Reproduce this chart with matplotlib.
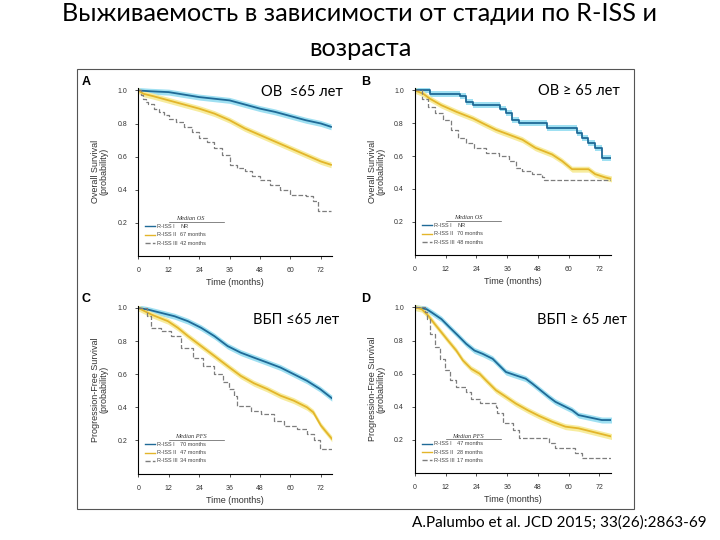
import matplotlib
matplotlib.use("Agg")
import matplotlib.pyplot as plt
from matplotlib.patches import Rectangle
from matplotlib.lines import Line2D

plt.rcParams['font.family'] = ['Liberation Sans', 'DejaVu Sans']

BLUE = '#1f6a97'
BLUE_CI = '#9fe0f2'
GOLD = '#e3b52a'
GOLD_CI = '#f7ec9e'
GRAY = '#7d7d7d'

# ---- data (months, survival probability) ----
# A: OS, age <= 65
A_I_T = [0, 5, 12, 18, 24, 30, 36, 42, 48, 54, 60, 66, 72, 76]
A_I_S = [1.0, 0.995, 0.99, 0.975, 0.96, 0.95, 0.94, 0.915, 0.89, 0.87, 0.845, 0.82, 0.80, 0.78]
A_II_T = [0, 2, 6, 12, 18, 24, 30, 36, 42, 48, 54, 60, 66, 72, 76]
A_II_S = [1.0, 0.98, 0.965, 0.94, 0.915, 0.89, 0.86, 0.82, 0.77, 0.73, 0.69, 0.65, 0.61, 0.57, 0.55]
A_III_T = [0, 1, 2, 3, 4, 6, 8, 10, 12, 15, 18, 21, 24, 27, 30, 33, 36, 39, 42, 45, 48, 52, 56, 60, 63, 66, 69, 71, 76]
A_III_S = [1.0, 0.97, 0.95, 0.93, 0.92, 0.89, 0.87, 0.85, 0.83, 0.81, 0.78, 0.75, 0.71, 0.69, 0.65, 0.61, 0.55, 0.53,
           0.51, 0.48, 0.46, 0.43, 0.40, 0.37, 0.365, 0.36, 0.33, 0.27, 0.27]

# B: OS, age > 65
B_I_T = [0, 5.8, 17.4, 20, 22.6, 33, 35.5, 38, 40.6, 51.6, 63.2, 65.2, 67.7, 70.3, 72.9, 76.5]
B_I_S = [1.0, 0.98, 0.965, 0.93, 0.91, 0.89, 0.86, 0.82, 0.80, 0.77, 0.74, 0.71, 0.68, 0.65, 0.59, 0.59]
B_II_T = [0, 3.2, 5.8, 10.3, 16.1, 22.6, 26.4, 31.6, 36.8, 41.9, 47, 53.5, 57.4, 61.3, 67.7, 70.3, 74.2, 76.8]
B_II_S = [1.0, 0.98, 0.95, 0.91, 0.87, 0.83, 0.80, 0.76, 0.73, 0.70, 0.65, 0.61, 0.57, 0.52, 0.52, 0.49, 0.47, 0.46]
B_III_T = [0, 2.6, 5.2, 7.7, 11, 14.2, 16.8, 20, 23.2, 27.7, 32.9, 36.8, 39.3, 41.9, 45.8, 49.7, 50.3, 76.8]
B_III_S = [1.0, 0.95, 0.90, 0.86, 0.82, 0.76, 0.71, 0.68, 0.65, 0.62, 0.60, 0.57, 0.53, 0.51, 0.49, 0.47, 0.455, 0.455]

# C: PFS, age <= 65
C_I_T = [0, 3.9, 9.1, 14.3, 19.6, 24.8, 30, 35.2, 40.4, 45.6, 50.9, 56.1, 61.3, 66.5, 71.7, 76.3]
C_I_S = [1.0, 0.99, 0.97, 0.95, 0.92, 0.88, 0.83, 0.77, 0.73, 0.70, 0.67, 0.64, 0.60, 0.56, 0.51, 0.455]
C_II_T = [0, 5.2, 11.7, 15.6, 19.6, 24.8, 30, 36, 40.4, 45.6, 50.9, 56.1, 61.3, 66.5, 69, 72, 76.3]
C_II_S = [1.0, 0.96, 0.92, 0.88, 0.83, 0.77, 0.71, 0.64, 0.59, 0.545, 0.51, 0.47, 0.44, 0.40, 0.37, 0.29, 0.21]
C_III_T = [0, 3.3, 5.2, 9.1, 13, 17, 21.5, 25.4, 30, 33.3, 35.9, 37.8, 39.1, 44.3, 48.2, 53.5, 57.4, 62.6, 66.5,
           69.1, 71.7, 76.3]
C_III_S = [1.0, 0.95, 0.88, 0.86, 0.83, 0.76, 0.70, 0.65, 0.60, 0.55, 0.51, 0.47, 0.41, 0.38, 0.36, 0.32, 0.29, 0.27,
           0.24, 0.20, 0.15, 0.15]

# D: PFS, age > 65
D_I_T = [0, 4.5, 6.5, 10.3, 13.5, 16.8, 20, 23.2, 26.4, 30.3, 32.9, 35.5, 39.3, 43.2, 45.8, 49, 52.2, 54.8, 58.7,
         61.3, 63.8, 72.9, 76.8]
D_I_S = [1.0, 0.99, 0.97, 0.93, 0.88, 0.83, 0.78, 0.74, 0.72, 0.69, 0.65, 0.61, 0.59, 0.57, 0.54, 0.50, 0.46, 0.43,
         0.40, 0.38, 0.35, 0.32, 0.32]
D_II_T = [0, 2.6, 5.2, 7.7, 10.3, 12.9, 16.1, 18.7, 21.9, 25.2, 27.7, 31.6, 35.5, 39.3, 43.9, 48.4, 53.5, 58.7,
          63.8, 69, 74.2, 76.8]
D_II_S = [1.0, 0.99, 0.95, 0.90, 0.85, 0.80, 0.74, 0.68, 0.63, 0.60, 0.56, 0.50, 0.46, 0.42, 0.38, 0.345, 0.31,
          0.28, 0.27, 0.25, 0.23, 0.22]
D_III_T = [0, 3.9, 4.5, 5.8, 7.7, 9.7, 11.6, 13.5, 16.1, 20, 21.9, 25.2, 31.6, 32.2, 34.2, 38.1, 40.6, 49.7, 52.2,
           54.8, 61.3, 62.6, 65.2, 76.8]
D_III_S = [1.0, 0.97, 0.93, 0.84, 0.76, 0.69, 0.62, 0.56, 0.52, 0.49, 0.45, 0.42, 0.40, 0.36, 0.30, 0.26, 0.21,
           0.21, 0.18, 0.15, 0.15, 0.12, 0.09, 0.09]

STAGES = ['R-ISS I', 'R-ISS II', 'R-ISS III']
MEDIANS_A = ['NR', '67 months', '42 months']
MEDIANS_B = ['NR', '70 months', '48 months']
MEDIANS_C = ['70 months', '47 months', '34 months']
MEDIANS_D = ['47 months', '28 months', '17 months']

X_TICKS = [0, 12, 24, 36, 48, 60, 72]
Y_TICKS = [0.2, 0.4, 0.6, 0.8, 1.0]

TITLE = 'Выживаемость в зависимости от стадии по R-ISS и\nвозраста'
CITATION = 'A.Palumbo et al. JCD 2015; 33(26):2863-69'


def draw_panel(ax, curves, ylabel, leg_title, medians):
    for t, s, color, ci, ls, step in curves:
        ds = 'steps-post' if step else 'default'
        if ci:
            lo = [v - 0.018 for v in s]
            hi = [v + 0.018 for v in s]
            ax.fill_between(t, lo, hi, color=ci, lw=0, step='post' if step else None, zorder=1)
        ax.plot(t, s, color=color, lw=1.3 if ls == '-' else 0.9, ls=ls, drawstyle=ds, zorder=2)

    ax.set_xlim(0, 76.5)
    ax.set_ylim(0, 1.015)
    ax.set_xticks(X_TICKS)
    ax.set_yticks(Y_TICKS)
    ax.set_yticklabels(['%.1f' % v for v in Y_TICKS])
    for side in ('top', 'right'):
        ax.spines[side].set_visible(False)
    for side in ('left', 'bottom'):
        ax.spines[side].set_linewidth(0.8)
    ax.tick_params(labelsize=5, length=2, width=0.6, pad=6, colors='#333333')
    ax.set_xlabel('Time (months)', fontsize=6.5, labelpad=3, color='#333333')
    ax.set_ylabel(ylabel, fontsize=6.5, labelpad=6, color='#333333', linespacing=1.0)

    # in-panel median legend
    ax.text(0.27, 0.205, leg_title, transform=ax.transAxes, fontsize=4.5, ha='center', va='bottom',
            family='Liberation Serif', style='italic', color='#333333')
    ax.add_line(Line2D([0.16, 0.44], [0.2, 0.2], transform=ax.transAxes, color='#555555', lw=0.5))
    styles = [(BLUE, '-'), (GOLD, '-'), (GRAY, '--')]
    for i, (name, med) in enumerate(zip(STAGES, medians)):
        y = 0.175 - i * 0.05
        c, ls = styles[i]
        ax.add_line(Line2D([0.035, 0.085], [y, y], transform=ax.transAxes, color=c, ls=ls, lw=1.0))
        ax.text(0.095, y, name, transform=ax.transAxes, fontsize=4.0, va='center', color='#444444')
        ax.text(0.215, y, med, transform=ax.transAxes, fontsize=4.0, va='center', color='#444444')


fig = plt.figure(figsize=(7.2, 5.4), dpi=100)
W, H = 720.0, 540.0

fig.text(0.5, 1 - 31 / H, TITLE, ha='center', va='center', fontsize=18.2, family=['Lato', 'DejaVu Sans'],
         linespacing=1.6)

fig.patches.append(Rectangle((77 / W, 1 - 509 / H), (634 - 77) / W, (509 - 69) / H, transform=fig.transFigure,
                             fill=False, ec='#555555', lw=0.8))

boxes = {
    'A': (138.3, 88.0, 194.0, 255.6),
    'B': (415.0, 88.0, 196.0, 254.5),
    'C': (138.3, 305.5, 194.0, 473.5),
    'D': (415.0, 305.0, 196.0, 473.0),
}


def make_ax(key):
    left, top, width, bottom = boxes[key]
    return fig.add_axes([left / W, 1 - bottom / H, width / W, (bottom - top) / H])


os_lab = 'Overall Survival\n(probability)'
pfs_lab = 'Progression-Free Survival\n(probability)'

ax = make_ax('A')
draw_panel(ax, [(A_I_T, A_I_S, BLUE, BLUE_CI, '-', False), (A_II_T, A_II_S, GOLD, GOLD_CI, '-', False),
                (A_III_T, A_III_S, GRAY, None, '--', True)], os_lab, 'Median OS', MEDIANS_A)
ax = make_ax('B')
draw_panel(ax, [(B_I_T, B_I_S, BLUE, BLUE_CI, '-', True), (B_II_T, B_II_S, GOLD, GOLD_CI, '-', False),
                (B_III_T, B_III_S, GRAY, None, '--', True)], os_lab, 'Median OS', MEDIANS_B)
ax = make_ax('C')
draw_panel(ax, [(C_I_T, C_I_S, BLUE, BLUE_CI, '-', False), (C_II_T, C_II_S, GOLD, GOLD_CI, '-', False),
                (C_III_T, C_III_S, GRAY, None, '--', True)], pfs_lab, 'Median PFS', MEDIANS_C)
ax = make_ax('D')
draw_panel(ax, [(D_I_T, D_I_S, BLUE, BLUE_CI, '-', False), (D_II_T, D_II_S, GOLD, GOLD_CI, '-', False),
                (D_III_T, D_III_S, GRAY, None, '--', True)], pfs_lab, 'Median PFS', MEDIANS_D)

# panel letters
for letter, (px, py) in zip('ABCD', [(86, 82), (366, 82), (86, 299), (366, 299)]):
    fig.text(px / W, 1 - py / H, letter, fontsize=9, fontweight='bold', ha='center', va='center')

# overlay labels
lab_font = ['Lato', 'DejaVu Sans']
overlays = [('ОВ  ≤65 лет', 302, 92), ('ОВ ≥ 65 лет', 579, 91), ('ВБП ≤65 лет', 296, 320), ('ВБП ≥ 65 лет', 582, 320)]
for txt, px, py in overlays:
    fig.text(px / W, 1 - py / H, txt, fontsize=10.5, family=lab_font, ha='center', va='center',
             bbox=dict(fc='white', ec='none', pad=1.5))

fig.text(559 / W, 1 - 523 / H, CITATION, fontsize=11, family=lab_font, ha='center', va='center')

fig.savefig('out.png', dpi=100)
